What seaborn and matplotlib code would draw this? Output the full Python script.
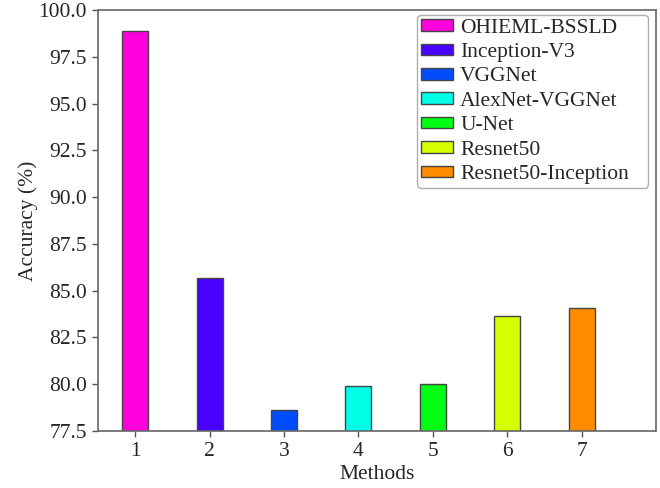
import matplotlib
matplotlib.use("Agg")
import matplotlib.pyplot as plt
import seaborn as sns
import pandas as pd

methods = ["OHIEML-BSSLD", "Inception-V3", "VGGNet", "AlexNet-VGGNet", "U-Net", "Resnet50", "Resnet50-Inception"]
positions = [1, 2, 3, 4, 5, 6, 7]
accuracy = [98.9, 85.7, 78.6, 79.9, 80.0, 83.65, 84.1]
colors = ["#ff00dd", "#4800ff", "#004cff", "#00ffe6", "#00ff12", "#d4ff00", "#ff8c00"]
yticks = [77.5, 80.0, 82.5, 85.0, 87.5, 90.0, 92.5, 95.0, 97.5, 100.0]

sns.set_style("white")
plt.rcParams['font.family'] = ['Liberation Serif', 'DejaVu Serif']
plt.rcParams['font.size'] = 15.5

df = pd.DataFrame({"pos": positions, "acc": accuracy, "method": methods})

fig = plt.figure(figsize=(6.6, 4.88), dpi=100)
ax = fig.add_axes([98/660, 1 - 431/488, (656-98)/660, (431-10)/488])

sns.barplot(data=df, x="pos", y="acc", hue="method", hue_order=methods,
            palette=dict(zip(methods, colors)), native_scale=True, dodge=False,
            saturation=1, width=0.35, edgecolor="#444444", linewidth=1.0, ax=ax, legend=True)

ax.set_ylim(77.5, 100.0)
ax.set_xlim(0.5, 8.0)
ax.set_yticks(yticks)
ax.set_yticklabels([f"{v:.1f}" for v in yticks])
ax.set_xticks(positions)
ax.set_xticklabels([str(p) for p in positions])
ax.set_xlabel("Methods", fontsize=15.5, labelpad=3)
ax.set_ylabel("Accuracy (%)", fontsize=15.5, labelpad=0)
ax.tick_params(axis='both', which='major', labelsize=15.5, direction='out', length=4, width=1, color="#555555", left=True, bottom=True, pad=4)
for s in ax.spines.values():
    s.set_color("#666666")
    s.set_linewidth(1.2)

leg = ax.legend(loc="upper left", bbox_to_anchor=(0.5717, 0.988, 0.414, 0), mode="expand",
                fontsize=15.5, frameon=True, fancybox=True,
                handlelength=1.5, handleheight=0.45, labelspacing=0.25,
                borderaxespad=0, handletextpad=0.33, borderpad=0.17)
leg.get_frame().set_edgecolor("#999999")
leg.get_frame().set_linewidth(1.0)

fig.savefig("out.png", dpi=100)
